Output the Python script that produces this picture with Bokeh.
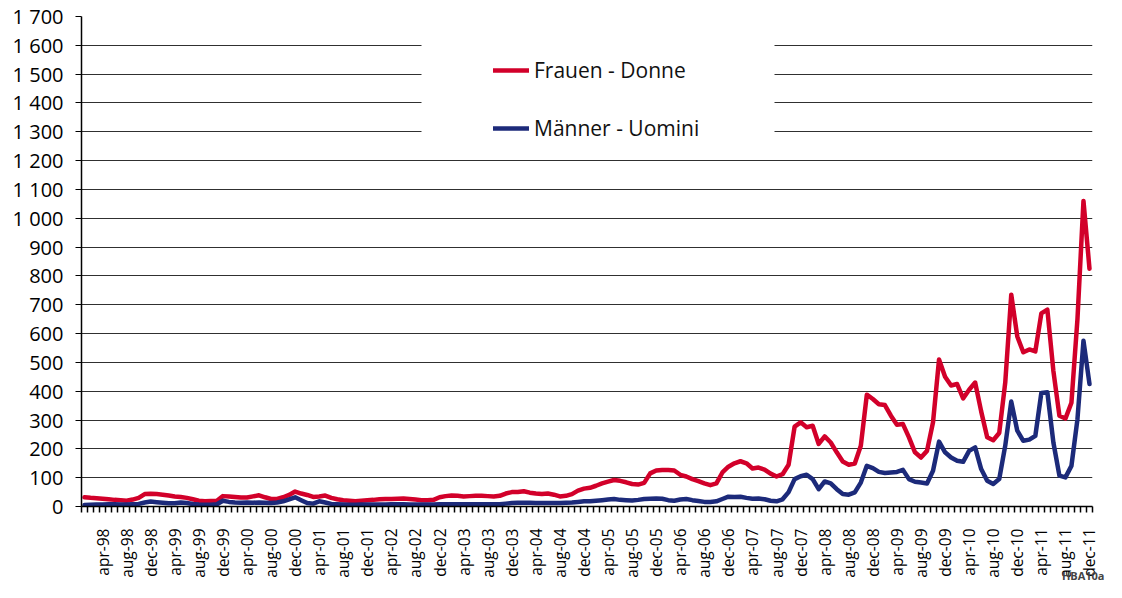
import math
from bokeh.plotting import figure
from bokeh.models import FixedTicker, Legend, LegendItem, Range1d, BoxAnnotation, Title
from bokeh.embed import file_html
from bokeh.resources import INLINE

# ---------------- data ----------------
years = list(range(1998, 2012))
month_names = ["jan", "feb", "mar", "apr", "may", "jun", "jul", "aug", "sep", "oct", "nov", "dec"]
months = [f"{m}-{str(y)[2:]}" for y in years for m in month_names]
labelled_months = ["apr", "aug", "dec"]

frauen = [
    32, 30, 29, 27, 25, 23, 22, 20, 24, 30, 43, 44,          # 1998
    43, 41, 38, 35, 33, 30, 25, 20, 18, 19, 20, 36,          # 1999
    35, 33, 31, 31, 35, 39, 32, 26, 26, 32, 40, 52,          # 2000
    45, 40, 33, 35, 38, 30, 25, 22, 20, 18, 20, 22,          # 2001
    23, 25, 26, 26, 27, 28, 26, 24, 22, 22, 23, 32,          # 2002
    36, 38, 37, 35, 36, 37, 37, 36, 35, 37, 45, 50,          # 2003
    50, 53, 48, 45, 43, 45, 41, 35, 37, 43, 55, 62,          # 2004
    65, 72, 80, 86, 92, 89, 84, 78, 76, 82, 115, 125,        # 2005
    127, 127, 125, 110, 104, 95, 88, 80, 74, 80, 118, 138,   # 2006
    150, 157, 150, 132, 135, 128, 114, 104, 112, 145, 277, 292,  # 2007
    275, 280, 217, 243, 222, 188, 156, 145, 149, 211, 388, 373,  # 2008
    355, 352, 315, 284, 286, 240, 188, 170, 193, 292, 510, 450,  # 2009
    420, 425, 375, 405, 430, 330, 240, 230, 255, 430, 735, 590,  # 2010
    535, 545, 538, 670, 683, 470, 315, 305, 360, 650, 1060, 825, # 2011
]

maenner = [
    5, 6, 7, 7, 8, 8, 7, 7, 8, 9, 14, 17,                    # 1998
    15, 13, 11, 11, 14, 12, 9, 7, 6, 6, 8, 20,               # 1999
    16, 14, 13, 14, 13, 14, 13, 12, 14, 18, 25, 32,          # 2000
    22, 12, 10, 18, 14, 9, 8, 7, 6, 6, 7, 7,                 # 2001
    7, 7, 7, 8, 8, 8, 7, 7, 7, 7, 7, 8,                      # 2002
    8, 8, 8, 8, 8, 8, 8, 8, 8, 8, 10, 12,                    # 2003
    13, 13, 13, 12, 12, 12, 12, 12, 13, 14, 16, 18,          # 2004
    18, 20, 22, 24, 26, 23, 22, 21, 23, 26, 27, 28,          # 2005
    27, 22, 20, 24, 26, 22, 19, 16, 16, 18, 26, 34,          # 2006
    33, 34, 30, 27, 28, 25, 20, 18, 25, 50, 95, 105,         # 2007
    110, 95, 60, 87, 80, 60, 43, 41, 49, 83, 141, 133,       # 2008
    120, 116, 118, 120, 127, 95, 86, 83, 80, 124, 225, 188,  # 2009
    170, 159, 155, 193, 205, 130, 89, 78, 95, 211, 364, 263, # 2010
    228, 232, 245, 394, 396, 222, 107, 101, 141, 303, 575, 425,  # 2011
]

y_ticks = list(range(0, 1800, 100))
y_tick_labels = ["0", "100", "200", "300", "400", "500", "600", "700", "800", "900",
                 "1 000", "1 100", "1 200", "1 300", "1 400", "1 500", "1 600", "1 700"]

series_names = ["Frauen - Donne", "Männer - Uomini"]
series_colors = ["#d2002a", "#1c2a7a"]
source_tag = "HBA10a"

# ---------------- layout (pixels) ----------------
W, H = 1106, 582
BL, BR, BT, BB = 81, 14, 16, 76
FW, FH = W - BL - BR, H - BT - BB
FONT = "Open Sans"
n = len(months)
xs = list(range(n))
x0, x1 = -0.5, n - 0.5
y0, y1 = 0, 1700


def px_to_x(px):  # frame-relative pixel -> x data
    return x0 + px * (x1 - x0) / FW


def px_to_y(py_from_top):  # frame-relative pixel from top -> y data
    return y1 - py_from_top * (y1 - y0) / FH


p = figure(width=W, height=H, output_backend="svg", toolbar_location=None,
           x_range=Range1d(x0, x1), y_range=Range1d(y0, y1),
           min_border_left=BL, min_border_right=BR, min_border_top=BT, min_border_bottom=BB)
p.outline_line_color = None
p.background_fill_color = "white"
p.border_fill_color = "white"

r1 = p.line(xs, frauen, line_color=series_colors[0], line_width=4.5, line_join="round", line_cap="round")
r2 = p.line(xs, maenner, line_color=series_colors[1], line_width=4.5, line_join="round", line_cap="round")

# grid
p.xgrid.visible = False
p.ygrid.ticker = FixedTicker(ticks=y_ticks)
p.ygrid.grid_line_color = "#303030"
p.ygrid.grid_line_width = 1

# y axis
p.yaxis.ticker = FixedTicker(ticks=y_ticks)
p.yaxis.major_label_overrides = {t: lab for t, lab in zip(y_ticks, y_tick_labels)}
p.yaxis.minor_tick_line_color = None
p.yaxis.major_tick_out = 6
p.yaxis.major_tick_in = 0
p.yaxis.major_tick_line_color = "black"
p.yaxis.axis_line_color = "black"
p.yaxis.axis_line_width = 1.5
p.yaxis.major_label_standoff = 12
p.yaxis.major_label_text_font = FONT
p.yaxis.major_label_text_font_size = "20px"
p.yaxis.major_label_text_color = "black"

# x axis
x_ticks = [i for i, m in enumerate(months) if m.split("-")[0] in labelled_months]
p.xaxis.ticker = FixedTicker(ticks=x_ticks, minor_ticks=[i - 0.5 for i in range(n + 1)])
p.xaxis.major_label_overrides = {i: months[i] for i in x_ticks}
p.xaxis.major_label_orientation = math.pi / 2
p.xaxis.major_tick_out = 0
p.xaxis.major_tick_in = 0
p.xaxis.major_tick_line_color = None
p.xaxis.minor_tick_out = 6
p.xaxis.minor_tick_in = 0
p.xaxis.minor_tick_line_color = "black"
p.xaxis.minor_tick_line_width = 1.5
p.xaxis.axis_line_color = "black"
p.xaxis.axis_line_width = 1.5
p.xaxis.major_label_standoff = 16
p.xaxis.major_label_text_font = FONT
p.xaxis.major_label_text_font_size = "15.5px"
p.xaxis.major_label_text_color = "black"

# white legend panel (hides the grid lines behind the legend)
p.add_layout(BoxAnnotation(left=px_to_x(340), right=px_to_x(693),
                           top=px_to_y(15), bottom=px_to_y(126),
                           fill_color="white", fill_alpha=1.0, line_color=None,
                           level="annotation"))

# legend
legend = Legend(items=[LegendItem(label=series_names[0], renderers=[r1]),
                       LegendItem(label=series_names[1], renderers=[r2])],
                location=(412, 364))
legend.background_fill_alpha = 0.0
legend.border_line_color = None
legend.glyph_width = 36
legend.glyph_height = 20
legend.label_standoff = 5
legend.label_width = 200
legend.label_height = 29
legend.spacing = 29
legend.padding = 0
legend.margin = 0
legend.label_text_font = FONT
legend.label_text_font_size = "21px"
legend.label_text_color = "#111111"
p.add_layout(legend)

# source code tag at the bottom right
p.add_layout(Title(text=source_tag, align="right", vertical_align="top",
                   text_font=FONT, text_font_size="11px", text_font_style="bold",
                   text_color="#444444", standoff=-26, offset=-12), "below")

open("out.html", "w").write(file_html(p, INLINE))
